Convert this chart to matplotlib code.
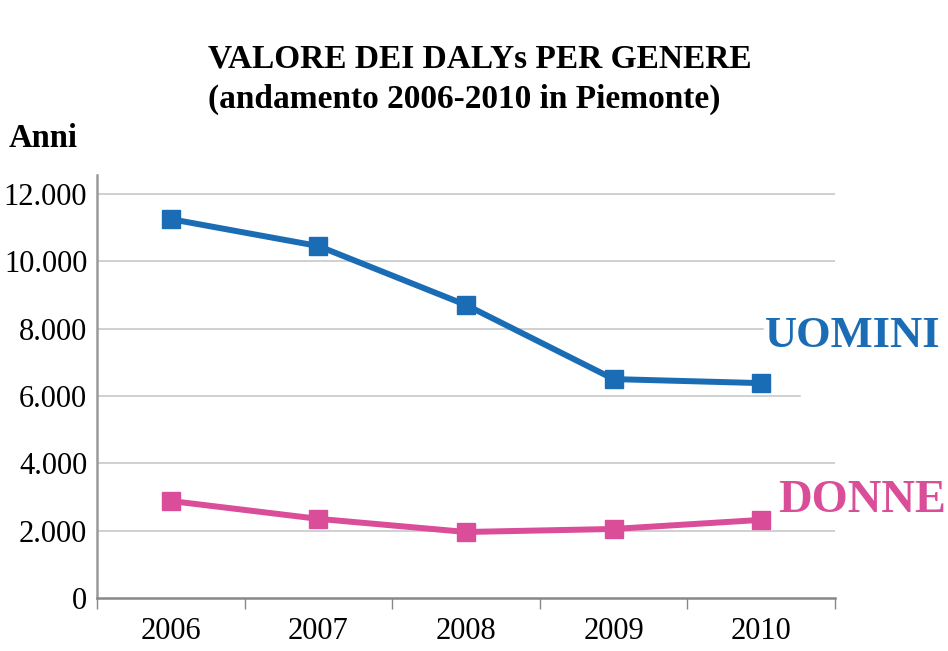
import matplotlib
matplotlib.use("Agg")
import matplotlib.pyplot as plt
from matplotlib.ticker import FixedLocator

years = ["2006", "2007", "2008", "2009", "2010"]
uomini = [11250, 10450, 8700, 6500, 6380]
donne = [2880, 2350, 1960, 2050, 2320]
yticks = [0, 2000, 4000, 6000, 8000, 10000, 12000]
ytick_labels = ["0", "2.000", "4.000", "6.000", "8.000", "10.000", "12.000"]

BLUE = "#1A6DB5"
PINK = "#DA4D99"
FONT = "Liberation Serif"

W, H = 948, 651
fig = plt.figure(figsize=(W / 100, H / 100), dpi=100)
ax = fig.add_axes([97 / W, 1 - 598 / H, (835 - 97) / W, (598 - 175) / H])

x = list(range(len(years)))
ax.plot(x, uomini, color=BLUE, lw=4.3, marker="s", ms=12.5, zorder=3)
ax.plot(x, donne, color=PINK, lw=4.3, marker="s", ms=12.5, zorder=3)

ax.set_xlim(-0.5, len(years) - 0.5)
ax.set_ylim(0, 12560)

# gridlines
grid_xmax = {2000: 1.0, 4000: 1.0, 6000: 0.953, 8000: 0.902, 10000: 1.0, 12000: 1.0}
for v in yticks[1:]:
    ax.axhline(v, xmin=0, xmax=grid_xmax[v], color="#C3C3C3", lw=1.1, zorder=1)

ax.set_yticks(yticks)
ax.set_yticklabels(ytick_labels, fontfamily=FONT, fontsize=22)
ax.tick_params(axis="y", length=0, pad=7)

ax.set_xticks(x)
ax.set_xticklabels(years, fontfamily=FONT, fontsize=22)
ax.xaxis.set_minor_locator(FixedLocator([i - 0.5 for i in range(len(years) + 1)]))
ax.tick_params(axis="x", which="major", length=0, pad=14)
ax.tick_params(axis="x", which="minor", length=8, width=1, color="#888888")

for s in ["top", "right"]:
    ax.spines[s].set_visible(False)
ax.spines["left"].set_color("#9A9A9A")
ax.spines["left"].set_linewidth(1.8)
ax.spines["bottom"].set_color("#888888")
ax.spines["bottom"].set_linewidth(1.8)

def fx(px):
    return px / W

def fy(py):
    return 1 - py / H

fig.text(fx(208), fy(68), "VALORE DEI DALYs PER GENERE", fontfamily=FONT,
         fontweight="bold", fontsize=24, va="baseline", ha="left")
fig.text(fx(208), fy(108), "(andamento 2006-2010 in Piemonte)", fontfamily=FONT,
         fontweight="bold", fontsize=24, va="baseline", ha="left")
fig.text(fx(9), fy(147), "Anni", fontfamily=FONT, fontweight="bold",
         fontsize=23.5, va="baseline", ha="left")
fig.text(fx(765), fy(347), "UOMINI", fontfamily=FONT, fontweight="bold",
         fontsize=32, color=BLUE, va="baseline", ha="left")
fig.text(fx(778), fy(512), "DONNE", fontfamily=FONT, fontweight="bold",
         fontsize=33.5, color=PINK, va="baseline", ha="left")

fig.savefig("out.png", dpi=100)
